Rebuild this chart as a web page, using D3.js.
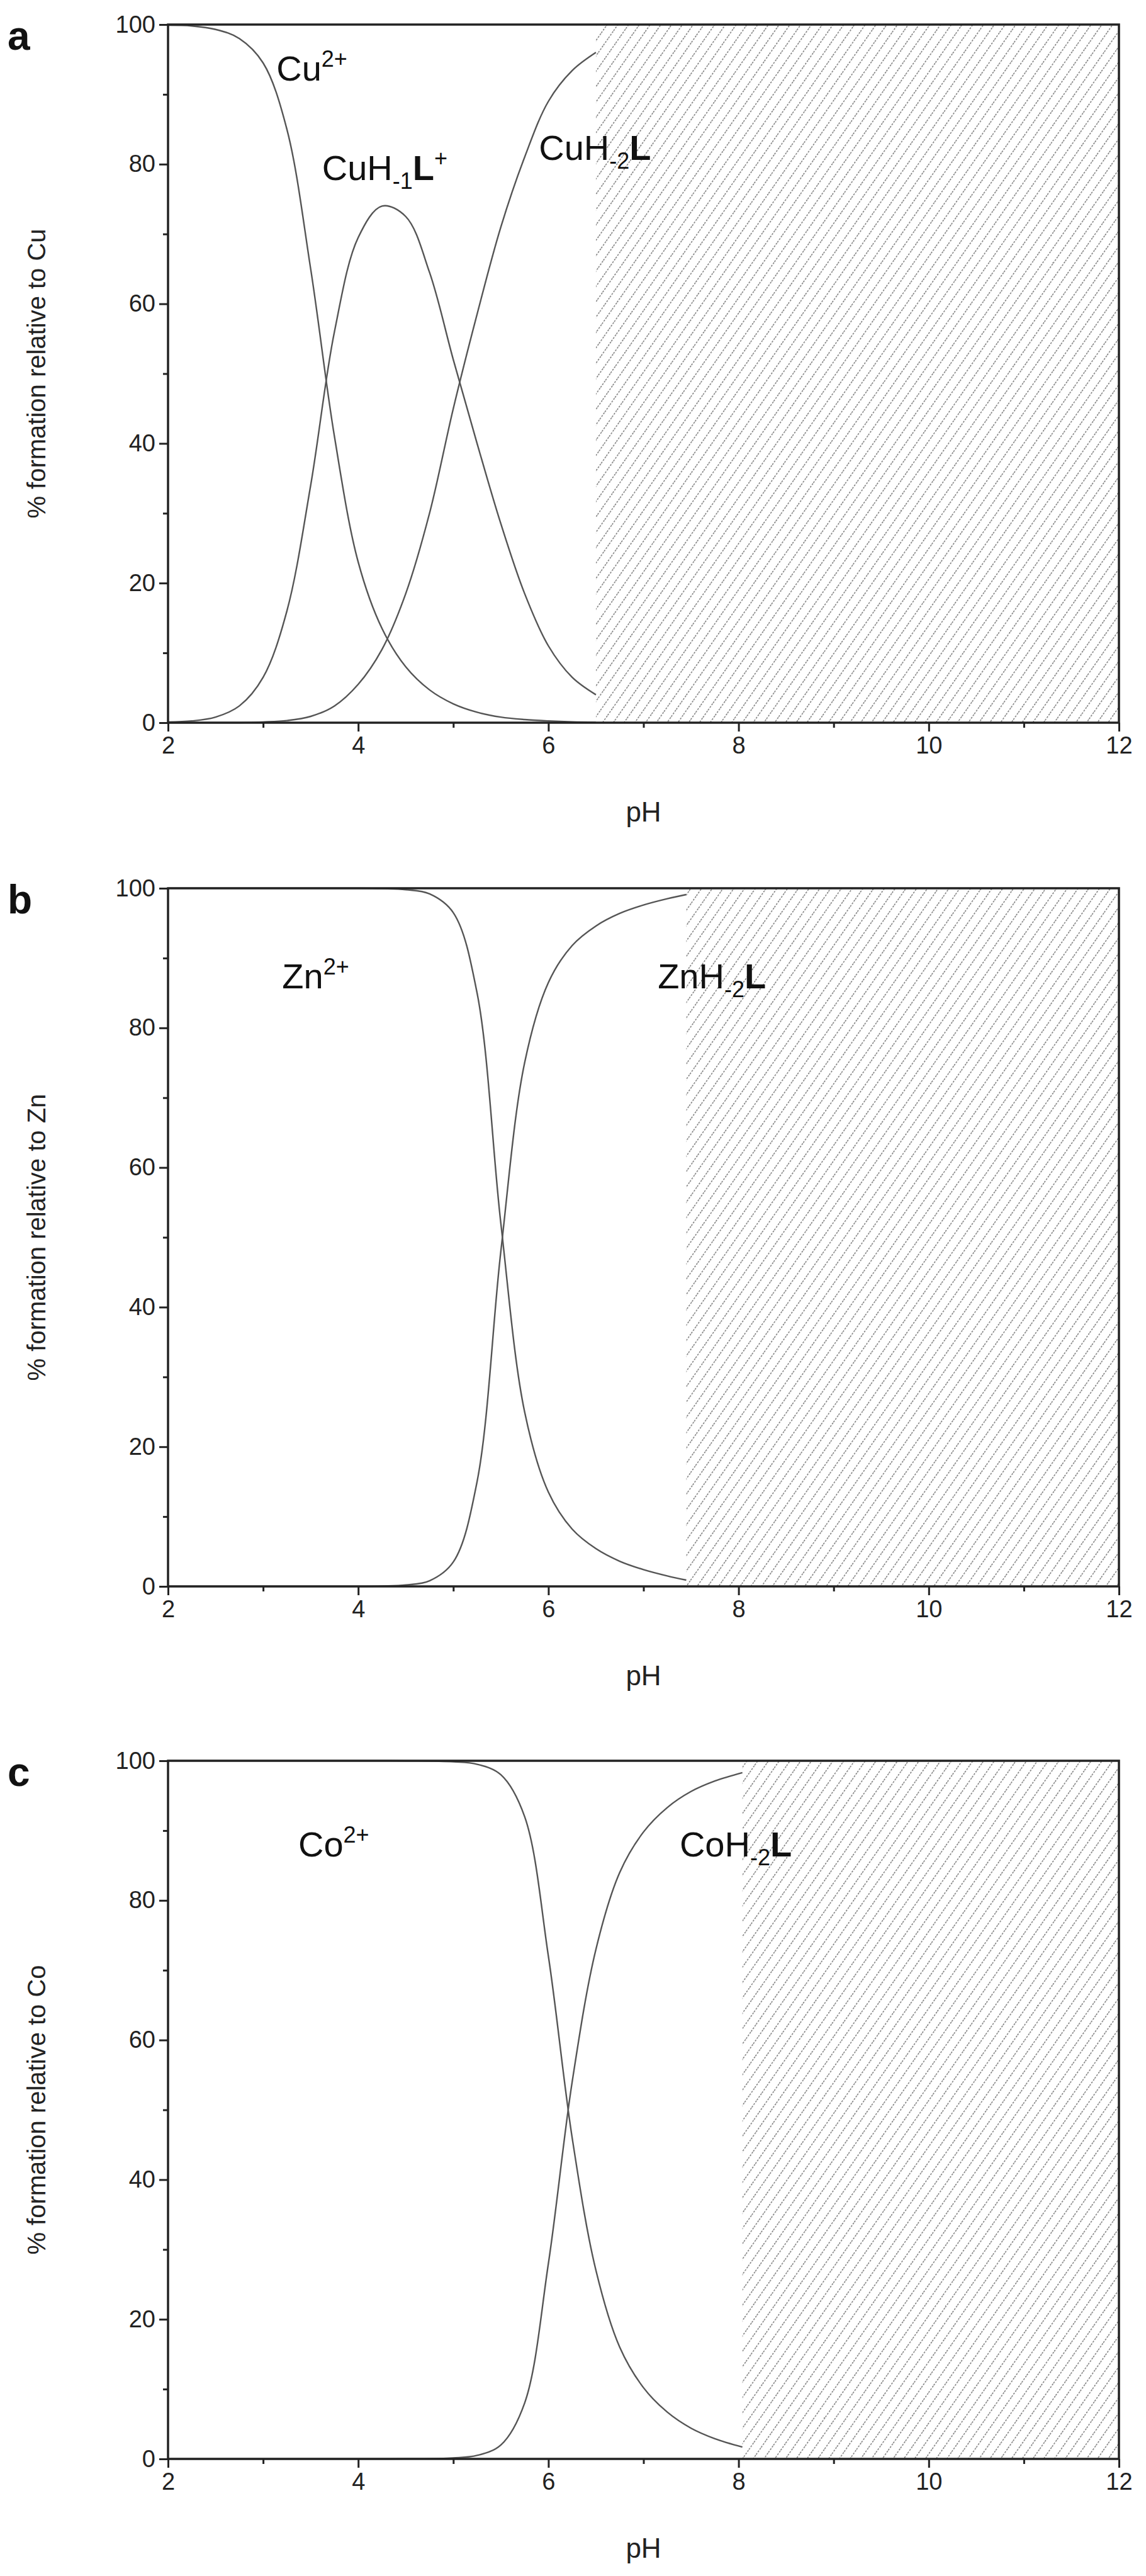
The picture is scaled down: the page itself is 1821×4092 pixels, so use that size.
<!DOCTYPE html>
<html>
<head>
<meta charset="utf-8">
<script src="https://cdn.jsdelivr.net/npm/d3@7"></script>
<style>body{margin:0;background:#fff}</style>
</head>
<body>
<script>
// sampled species distribution, % formation vs pH
const phA = [2, 2.25, 2.5, 2.75, 3, 3.25, 3.5, 3.75, 4, 4.25, 4.5, 4.75, 5, 5.25, 5.5, 5.75, 6, 6.25, 6.5];
const cu = [99.9, 99.8, 99.3, 98, 94.5, 85, 65, 41, 23, 13.5, 8, 4.7, 2.7, 1.5, 0.8, 0.45, 0.25, 0.12, 0.06];
const cuH1L = [0.1, 0.25, 0.8, 2.4, 6.5, 16, 34, 56, 69.5, 74, 72.5, 64.5, 52, 40, 28.5, 18.5, 11, 6.5, 4];
const cuH2L = [0, 0, 0, 0, 0.1, 0.3, 0.9, 2.4, 5.5, 10.5, 18.5, 30, 45, 58.5, 71, 81, 89, 93.4, 96];

const phB = [2, 3, 4, 4.25, 4.5, 4.75, 5, 5.25, 5.5, 5.75, 6, 6.25, 6.5, 6.75, 7, 7.25, 7.45];
const znH2L = [0, 0, 0, 0.05, 0.2, 0.8, 3.5, 15, 48, 75, 86.5, 91.8, 94.6, 96.4, 97.6, 98.5, 99.1];
const zn = znH2L.map(v => 100 - v);

const phC = [2, 3, 4, 4.5, 5, 5.25, 5.5, 5.75, 6, 6.25, 6.5, 6.75, 7, 7.25, 7.5, 7.75, 8.04];
const coH2L = [0, 0, 0, 0.02, 0.15, 0.5, 2, 8, 28, 54, 73, 84, 89.8, 93.3, 95.6, 97.1, 98.3];
const co = coH2L.map(v => 100 - v);

const xTicks = [2, 4, 6, 8, 10, 12];
const yTicks = [0, 20, 40, 60, 80, 100];

const panels = [
  { letter: "a", top: 39, metal: "Cu", hatch: 6.5, ph: phA, series: [cu, cuH1L, cuH2L],
    labels: [
      { x: 3.14, y: 92, parts: [["Cu", ""], ["2+", "sup"]] },
      { x: 3.62, y: 77.7, parts: [["CuH", ""], ["-1", "sub"], ["L", "b"], ["+", "sup"]] },
      { x: 5.9, y: 80.6, parts: [["CuH", ""], ["-2", "sub"], ["L", "b"]] }
    ] },
  { letter: "b", top: 1411, metal: "Zn", hatch: 7.45, ph: phB, series: [zn, znH2L],
    labels: [
      { x: 3.2, y: 85.7, parts: [["Zn", ""], ["2+", "sup"]] },
      { x: 7.15, y: 85.7, parts: [["ZnH", ""], ["-2", "sub"], ["L", "b"]] }
    ] },
  { letter: "c", top: 2797, metal: "Co", hatch: 8.04, ph: phC, series: [co, coH2L],
    labels: [
      { x: 3.37, y: 86.3, parts: [["Co", ""], ["2+", "sup"]] },
      { x: 7.38, y: 86.3, parts: [["CoH", ""], ["-2", "sub"], ["L", "b"]] }
    ] }
];

const W = 1821, H = 4092;
const left = 267, right = 1778, plotH = 1109;
const font = "'Liberation Sans Narrow', 'Liberation Sans', Arial, sans-serif";

const svg = d3.select("body").append("svg").attr("width", W).attr("height", H);

// hatch pattern
const defs = svg.append("defs");
const pat = defs.append("pattern")
    .attr("id", "hatch")
    .attr("patternUnits", "userSpaceOnUse")
    .attr("width", 14).attr("height", 14)
    .attr("patternTransform", "rotate(35)");
pat.append("line")
    .attr("x1", 0).attr("y1", 0).attr("x2", 0).attr("y2", 14)
    .attr("stroke", "#666").attr("stroke-width", 2.6)
    .attr("stroke-dasharray", "3,2");

const x = d3.scaleLinear().domain([2, 12]).range([left, right]);

panels.forEach(p => {
    const y = d3.scaleLinear().domain([0, 100]).range([p.top + plotH, p.top]);
    const g = svg.append("g");

    // hatched region
    g.append("rect")
        .attr("x", x(p.hatch)).attr("y", y(100))
        .attr("width", x(12) - x(p.hatch)).attr("height", y(0) - y(100))
        .attr("fill", "url(#hatch)");

    // curves
    const line = d3.line().x((d, i) => x(p.ph[i])).y(d => y(Math.max(0, Math.min(100, d))))
        .curve(d3.curveCatmullRom.alpha(0.5));
    p.series.forEach(s => {
        g.append("path").attr("d", line(s))
            .attr("fill", "none").attr("stroke", "#555").attr("stroke-width", 2.4);
    });

    // axes
    const xAxis = d3.axisBottom(x).tickValues(xTicks).tickSize(14).tickPadding(8).tickFormat(d3.format("d"));
    const xMinor = d3.axisBottom(x).tickValues(d3.range(3, 12, 2)).tickSize(8).tickFormat("");
    const yAxis = d3.axisLeft(y).tickValues(yTicks).tickSize(14).tickPadding(6);
    const yMinor = d3.axisLeft(y).tickValues(d3.range(10, 100, 20)).tickSize(8).tickFormat("");

    [xAxis, xMinor].forEach(a => g.append("g").attr("transform", `translate(0,${y(0)})`).call(a));
    [yAxis, yMinor].forEach(a => g.append("g").attr("transform", `translate(${left},0)`).call(a));
    g.selectAll(".domain").remove();
    g.selectAll(".tick line").attr("stroke", "#222").attr("stroke-width", 3);
    g.selectAll(".tick text").attr("font-family", font).attr("font-size", 38).attr("fill", "#222");

    // frame
    g.append("rect")
        .attr("x", left).attr("y", y(100))
        .attr("width", right - left).attr("height", y(0) - y(100))
        .attr("fill", "none").attr("stroke", "#222").attr("stroke-width", 3.5);

    // axis titles
    g.append("text")
        .attr("x", (left + right) / 2).attr("y", y(0) + 157)
        .attr("text-anchor", "middle")
        .attr("font-family", "'Liberation Sans', Arial, sans-serif").attr("font-size", 44)
        .attr("fill", "#222").text("pH");
    g.append("text")
        .attr("transform", `translate(72,${(y(0) + y(100)) / 2}) rotate(-90)`)
        .attr("text-anchor", "middle")
        .attr("font-family", "'Liberation Sans', Arial, sans-serif").attr("font-size", 40)
        .attr("fill", "#222").text("% formation relative to " + p.metal);

    // panel letter
    g.append("text")
        .attr("x", 12).attr("y", p.top + 40)
        .attr("font-family", "'Liberation Sans', Arial, sans-serif").attr("font-weight", "bold")
        .attr("font-size", 64).attr("fill", "#111").text(p.letter);

    // species labels
    p.labels.forEach(l => {
        const t = g.append("text")
            .attr("x", x(l.x)).attr("y", y(l.y))
            .attr("font-family", font).attr("font-size", 56).attr("fill", "#111");
        l.parts.forEach(([s, k]) => {
            const ts = t.append("tspan").text(s);
            if (k === "sup") ts.attr("font-size", 36).attr("dy", -22);
            if (k === "sub") ts.attr("font-size", 36).attr("dy", 14);
            if (k === "b") ts.attr("font-weight", "bold").attr("dy", -14);
        });
    });
});
</script>
</body>
</html>
